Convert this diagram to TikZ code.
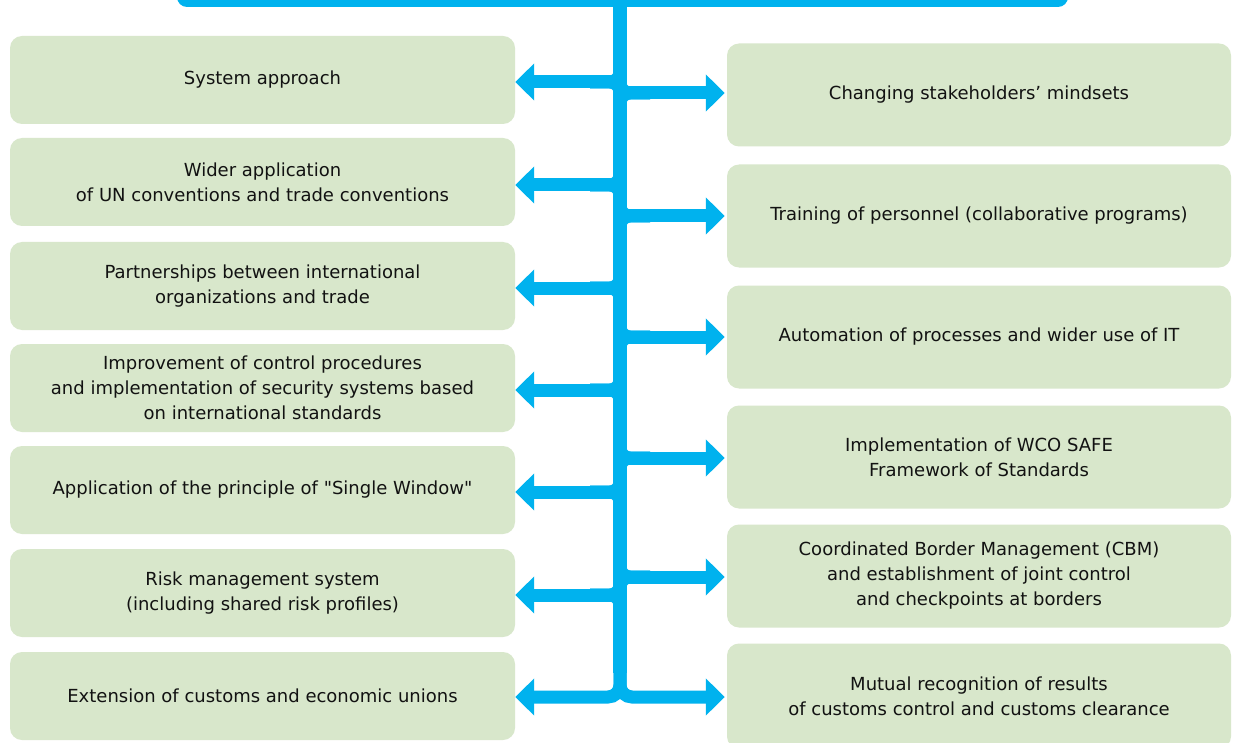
\documentclass[tikz,border=0pt]{standalone}
\usepackage{fontspec}
\newfontfamily\mf{DejaVu Sans}
\usetikzlibrary{arrows.meta,calc}
\definecolor{cblue}{RGB}{0,178,238}
\definecolor{cgreen}{RGB}{216,231,203}
\definecolor{ctext}{RGB}{18,18,18}
\begin{document}
\begin{tikzpicture}[x=1pt,y=-1pt,
  box/.style={fill=cgreen, rounded corners=12pt, align=center, text=ctext,
    font=\mf\fontsize{18}{25}\selectfont, inner sep=0pt},
  lbox/.style={box, minimum width=505pt, minimum height=88pt},
  rbox/.style={box, minimum width=504pt, minimum height=103pt},
  topbar/.style={fill=cblue, rounded corners=10pt, inner sep=0pt},
  trunk/.style={draw=cblue, line width=14pt},
  arr/.style={draw=cblue, line width=13pt, -{Triangle[width=36pt,length=19pt]}},
  fil/.style={draw=cblue, line width=13pt, rounded corners=10pt},
]
\useasboundingbox (0,0) rectangle (1233,743);
\clip (0,0) rectangle (1233,743);
\fill[white] (0,0) rectangle (1233,743);

% top bar (cut off)
\node[topbar, minimum width=891pt, minimum height=40pt] (T) at (622.5,-13) {};

% left boxes
\node[lbox] (L1) at (262.5,80)  {System approach};
\node[lbox] (L2) at (262.5,182) {Wider application\\of UN conventions and trade conventions};
\node[lbox] (L3) at (262.5,286) {Partnerships between international\\organizations and trade};
\node[lbox] (L4) at (262.5,388) {Improvement of control procedures\\and implementation of security systems based\\on international standards};
\node[lbox] (L5) at (262.5,490) {Application of the principle of "Single Window"};
\node[lbox] (L6) at (262.5,593) {Risk management system\\(including shared risk profiles)};
\node[lbox] (L7) at (262.5,696) {Extension of customs and economic unions};

% right boxes
\node[rbox] (R1) at (979,95)  {Changing stakeholders’ mindsets};
\node[rbox] (R2) at (979,216) {Training of personnel (collaborative programs)};
\node[rbox] (R3) at (979,337) {Automation of processes and wider use of IT};
\node[rbox] (R4) at (979,457) {Implementation of WCO SAFE\\Framework of Standards};
\node[rbox] (R5) at (979,576) {Coordinated Border Management (CBM)\\and establishment of joint control\\and checkpoints at borders};
\node[rbox, minimum height=105pt] (R6) at (979,696) {Mutual recognition of results\\of customs control and customs clearance};

% junction coordinates on the trunk
\coordinate (jL1) at (620,82);
\coordinate (jL2) at (620,185);
\coordinate (jL3) at (620,288);
\coordinate (jL4) at (620,390);
\coordinate (jL5) at (620,492);
\coordinate (jL6) at (620,595);
\coordinate (jR1) at (620,93);
\coordinate (jR2) at (620,216);
\coordinate (jR3) at (620,337);
\coordinate (jR4) at (620,458);
\coordinate (jR5) at (620,577);
\coordinate (jB)  at (620,697);

% trunk
\draw[trunk] (T.south -| jB) -- ($(jB)+(0,-24)$);

% fillets and arrows
\foreach \j/\b in {jL1/L1,jL2/L2,jL3/L3,jL4/L4,jL5/L5,jL6/L6}{
  \draw[fil] (\j) ++(0,-25) -- (\j) -- ++(-30,0);
  \draw[fil] (\j) ++(0,25) -- (\j) -- ++(-30,0);
  \draw[arr] (\j) -- (\j -| \b.east);
}
\foreach \j/\b in {jR1/R1,jR2/R2,jR3/R3,jR4/R4,jR5/R5}{
  \draw[fil] (\j) ++(0,-25) -- (\j) -- ++(30,0);
  \draw[fil] (\j) ++(0,25) -- (\j) -- ++(30,0);
  \draw[arr, shorten >=2pt] (\j) -- (\j -| \b.west);
}
% bottom split
\draw[arr, rounded corners=12pt] (jB) ++(0,-34) -- (jB) -- (jB -| L7.east);
\draw[arr, rounded corners=12pt, shorten >=2pt] (jB) ++(0,-34) -- (jB) -- (jB -| R6.west);
\end{tikzpicture}
\end{document}
